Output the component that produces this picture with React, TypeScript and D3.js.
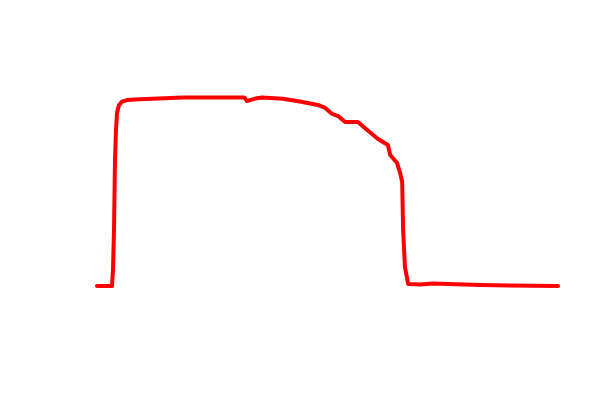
import { useMemo } from "react";
import * as d3 from "d3";

// Trace (x: 0–100 run position, y: 0–100 level)
const xs = [
  0, 3.25, 3.47, 3.69, 3.9, 4.12, 4.34, 4.77, 5.42, 6.5, 9.3, 18.7, 31.7, 32.1,
  32.5, 33.2, 34.3, 35.8, 40.3, 44.0, 47.9, 49.5, 51.0, 52.3, 53.8, 56.6, 58.1,
  60.95, 63.1, 63.6, 65.1, 65.7, 66.2, 66.4, 66.8, 67.5, 70.1, 72.9, 83.1, 100,
];
const ys = [
  0, 0, 8.5, 29.8, 67, 83, 92, 96.3, 98.1, 98.9, 99.3, 100.3, 100.3, 100, 98.4,
  98.9, 99.7, 100.3, 99.6, 98.1, 96.3, 94.7, 91.5, 90.4, 87.2, 87.2, 84, 78.2,
  75, 69.7, 65.4, 60.6, 55.3, 29.8, 10.1, 1.1, 0.8, 1.3, 0.5, 0,
];

const W = 600;
const H = 400;

export default function App() {
  const points = useMemo(() => xs.map((x, i) => ({ x, y: ys[i] })), []);

  const xScale = d3.scaleLinear().domain([0, 100]).range([97, 558]);
  const yScale = d3.scaleLinear().domain([0, 100]).range([286, 98]);

  const line = d3
    .line<{ x: number; y: number }>()
    .x((d) => xScale(d.x))
    .y((d) => yScale(d.y));

  return (
    <svg
      width={W}
      height={H}
      style={{ position: "absolute", left: 0, top: 0, background: "#fff" }}
    >
      <path
        d={line(points) ?? ""}
        fill="none"
        stroke="#ff0000"
        strokeWidth={4}
        strokeLinejoin="round"
        strokeLinecap="round"
      />
    </svg>
  );
}
